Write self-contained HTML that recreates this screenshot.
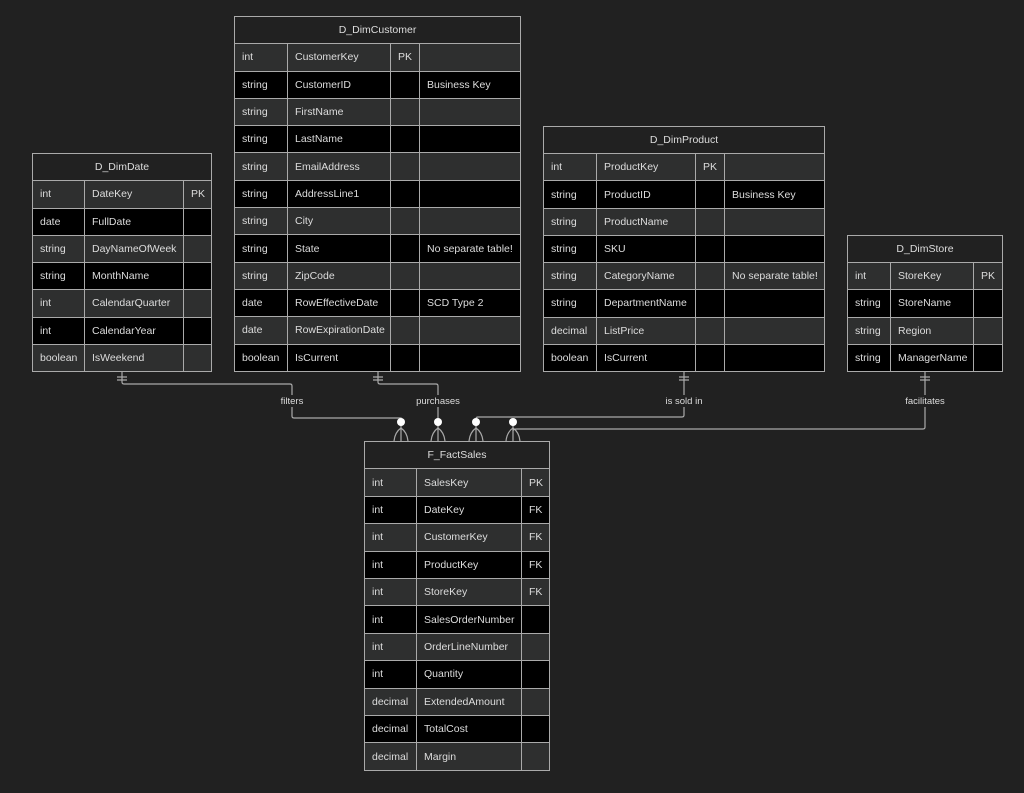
<!DOCTYPE html>
<html><head><meta charset="utf-8"><style>
body{margin:0;width:1024px;height:793px;background:#212121;position:relative;overflow:hidden;font-family:"Liberation Sans",sans-serif;}
table{position:absolute;border-collapse:collapse;table-layout:fixed;color:#ddd;font-size:10.5px;}
td,th{border:1px solid #aaa;padding:0 0 0 7px;white-space:nowrap;overflow:hidden;}
th{font-weight:normal;text-align:center;padding:0;background:#212121;}
tr.a td{background:#2e2f2f}
tr.b td{background:#000}
svg{position:absolute;left:0;top:0}
.l{font-size:9.5px;fill:#ddd;text-anchor:middle;font-family:"Liberation Sans",sans-serif}
</style></head><body>
<svg width="1024" height="793">
<g fill="none" stroke="#aaa" stroke-width="1.2">
<path d="M122 372 V382 Q122 384 124 384 H290 Q292 384 292 386 V416 Q292 418 294 418 H401 V422"/>
<path d="M378 372 V382 Q378 384 380 384 H436 Q438 384 438 386 V422"/>
<path d="M684 372 V415 Q684 417 682 417 H478 Q476 417 476 419 V422"/>
<path d="M925 372 V427 Q925 429 923 429 H517 Q513 429 513 431"/>
<path d="M117 377 H127 M117 380 H127 M373 377 H383 M373 380 H383 M679 377 H689 M679 380 H689 M920 377 H930 M920 380 H930"/>
<path d="M401 422 V441 M401 428 Q395 432 394 441 M401 428 Q407 432 408 441"/>
<path d="M438 422 V441 M438 428 Q432 432 431 441 M438 428 Q444 432 445 441"/>
<path d="M476 422 V441 M476 428 Q470 432 469 441 M476 428 Q482 432 483 441"/>
<path d="M513 422 V441 M513 428 Q507 432 506 441 M513 428 Q519 432 520 441"/>
</g>
<g fill="#fff"><circle cx="401" cy="422" r="4"/><circle cx="438" cy="422" r="4"/><circle cx="476" cy="422" r="4"/><circle cx="513" cy="422" r="4"/></g>
<rect x="275" y="395" width="34" height="12" fill="#212121"/><text class="l" x="292" y="404">filters</text>
<rect x="416" y="395" width="44" height="12" fill="#212121"/><text class="l" x="438" y="404">purchases</text>
<rect x="664" y="395" width="40" height="12" fill="#212121"/><text class="l" x="684" y="404">is sold in</text>
<rect x="902" y="395" width="46" height="12" fill="#212121"/><text class="l" x="925" y="404">facilitates</text>
</svg>

<table style="left:32px;top:153px;width:179px;height:219px">
<colgroup><col style="width:52px"><col style="width:99px"><col style="width:28px"></colgroup>
<tr><th colspan="3">D_DimDate</th></tr>
<tr class="a"><td>int</td><td>DateKey</td><td>PK</td></tr>
<tr class="b"><td>date</td><td>FullDate</td><td></td></tr>
<tr class="a"><td>string</td><td>DayNameOfWeek</td><td></td></tr>
<tr class="b"><td>string</td><td>MonthName</td><td></td></tr>
<tr class="a"><td>int</td><td>CalendarQuarter</td><td></td></tr>
<tr class="b"><td>int</td><td>CalendarYear</td><td></td></tr>
<tr class="a"><td>boolean</td><td>IsWeekend</td><td></td></tr>
</table>

<table style="left:234px;top:16px;width:286px;height:356px">
<colgroup><col style="width:53px"><col style="width:103px"><col style="width:29px"><col style="width:101px"></colgroup>
<tr><th colspan="4">D_DimCustomer</th></tr>
<tr class="a"><td>int</td><td>CustomerKey</td><td>PK</td><td></td></tr>
<tr class="b"><td>string</td><td>CustomerID</td><td></td><td>Business Key</td></tr>
<tr class="a"><td>string</td><td>FirstName</td><td></td><td></td></tr>
<tr class="b"><td>string</td><td>LastName</td><td></td><td></td></tr>
<tr class="a"><td>string</td><td>EmailAddress</td><td></td><td></td></tr>
<tr class="b"><td>string</td><td>AddressLine1</td><td></td><td></td></tr>
<tr class="a"><td>string</td><td>City</td><td></td><td></td></tr>
<tr class="b"><td>string</td><td>State</td><td></td><td>No separate table!</td></tr>
<tr class="a"><td>string</td><td>ZipCode</td><td></td><td></td></tr>
<tr class="b"><td>date</td><td>RowEffectiveDate</td><td></td><td>SCD Type 2</td></tr>
<tr class="a"><td>date</td><td>RowExpirationDate</td><td></td><td></td></tr>
<tr class="b"><td>boolean</td><td>IsCurrent</td><td></td><td></td></tr>
</table>

<table style="left:543px;top:126px;width:281px;height:246px">
<colgroup><col style="width:53px"><col style="width:99px"><col style="width:29px"><col style="width:100px"></colgroup>
<tr><th colspan="4">D_DimProduct</th></tr>
<tr class="a"><td>int</td><td>ProductKey</td><td>PK</td><td></td></tr>
<tr class="b"><td>string</td><td>ProductID</td><td></td><td>Business Key</td></tr>
<tr class="a"><td>string</td><td>ProductName</td><td></td><td></td></tr>
<tr class="b"><td>string</td><td>SKU</td><td></td><td></td></tr>
<tr class="a"><td>string</td><td>CategoryName</td><td></td><td>No separate table!</td></tr>
<tr class="b"><td>string</td><td>DepartmentName</td><td></td><td></td></tr>
<tr class="a"><td>decimal</td><td>ListPrice</td><td></td><td></td></tr>
<tr class="b"><td>boolean</td><td>IsCurrent</td><td></td><td></td></tr>
</table>

<table style="left:847px;top:235px;width:155px;height:137px">
<colgroup><col style="width:43px"><col style="width:83px"><col style="width:29px"></colgroup>
<tr><th colspan="3">D_DimStore</th></tr>
<tr class="a"><td>int</td><td>StoreKey</td><td>PK</td></tr>
<tr class="b"><td>string</td><td>StoreName</td><td></td></tr>
<tr class="a"><td>string</td><td>Region</td><td></td></tr>
<tr class="b"><td>string</td><td>ManagerName</td><td></td></tr>
</table>

<table style="left:364px;top:441px;width:185px;height:330px">
<colgroup><col style="width:52px"><col style="width:105px"><col style="width:28px"></colgroup>
<tr><th colspan="3">F_FactSales</th></tr>
<tr class="a"><td>int</td><td>SalesKey</td><td>PK</td></tr>
<tr class="b"><td>int</td><td>DateKey</td><td>FK</td></tr>
<tr class="a"><td>int</td><td>CustomerKey</td><td>FK</td></tr>
<tr class="b"><td>int</td><td>ProductKey</td><td>FK</td></tr>
<tr class="a"><td>int</td><td>StoreKey</td><td>FK</td></tr>
<tr class="b"><td>int</td><td>SalesOrderNumber</td><td></td></tr>
<tr class="a"><td>int</td><td>OrderLineNumber</td><td></td></tr>
<tr class="b"><td>int</td><td>Quantity</td><td></td></tr>
<tr class="a"><td>decimal</td><td>ExtendedAmount</td><td></td></tr>
<tr class="b"><td>decimal</td><td>TotalCost</td><td></td></tr>
<tr class="a"><td>decimal</td><td>Margin</td><td></td></tr>
</table>
</body></html>
